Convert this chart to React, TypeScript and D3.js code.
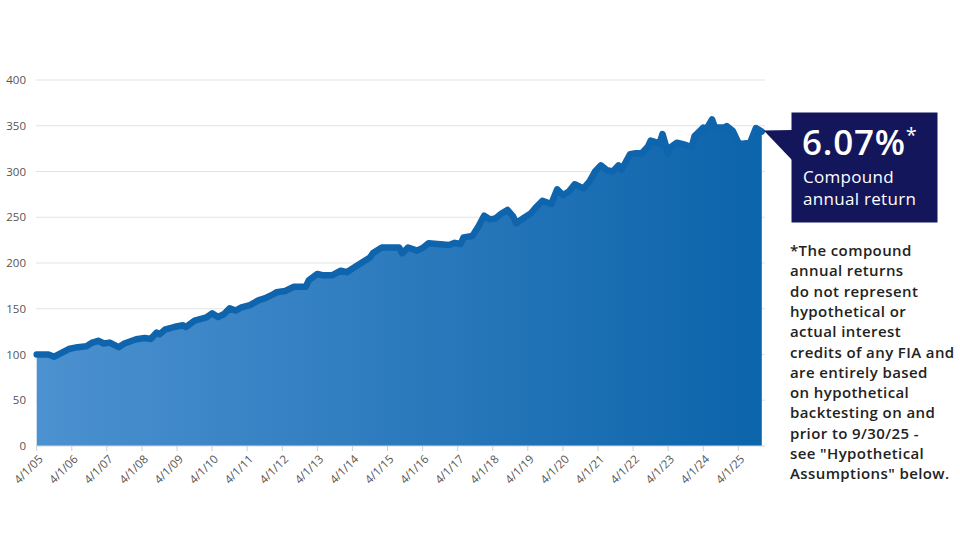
import * as d3 from "d3";

// index value, roughly monthly samples
const dates = [
  "2005-04", "2005-08", "2005-10", "2006-03", "2006-06", "2006-09", "2006-11",
  "2007-01", "2007-03", "2007-05", "2007-08", "2007-10", "2008-02", "2008-05",
  "2008-07", "2008-09", "2008-10", "2008-12", "2009-03", "2009-06", "2009-07",
  "2009-10", "2010-02", "2010-04", "2010-06", "2010-08", "2010-10", "2010-12",
  "2011-02", "2011-05", "2011-08", "2011-10", "2012-01", "2012-02", "2012-05",
  "2012-08", "2012-12", "2013-01", "2013-04", "2013-06", "2013-09", "2013-12",
  "2014-02", "2014-05", "2014-07", "2014-10", "2014-11", "2015-02", "2015-05",
  "2015-08", "2015-09", "2015-11", "2016-02", "2016-04", "2016-06", "2016-10",
  "2017-01", "2017-03", "2017-05", "2017-06", "2017-09", "2017-11", "2018-01",
  "2018-03", "2018-05", "2018-07", "2018-09", "2018-11", "2018-12", "2019-03",
  "2019-05", "2019-07", "2019-09", "2019-12", "2020-02", "2020-04", "2020-06",
  "2020-08", "2020-11", "2021-01", "2021-03", "2021-05", "2021-07", "2021-09",
  "2021-11", "2021-12", "2022-03", "2022-05", "2022-07", "2022-09", "2022-10",
  "2023-01", "2023-02", "2023-04", "2023-05", "2023-07", "2023-10", "2023-12",
  "2024-01", "2024-04", "2024-05", "2024-07", "2024-08", "2024-11", "2024-12",
  "2025-02", "2025-04", "2025-05", "2025-08", "2025-10", "2025-12",
];
const values = [
  100, 100, 97.6, 106, 108, 109, 113,
  115, 112, 113, 108, 112, 116.6, 118,
  117, 124, 122, 127.5, 130, 132, 130,
  137, 140.6, 145, 141, 144, 150.5, 148,
  151.5, 154, 159.5, 161.4, 166, 168, 169.4,
  174, 174, 181, 188, 186.5, 186.5, 191.6,
  190, 196, 200, 206, 211, 217, 217,
  217, 210.5, 217, 213.5, 216.4, 221.5, 220.4,
  219.7, 222, 220.8, 228, 229.5, 239.7, 251.7,
  247.7, 248.8, 254, 258, 250.6, 243.4, 250,
  254, 261.5, 268, 264.5, 280.5, 274.3, 278,
  286, 281.5, 289, 300, 306.7, 301.6, 300,
  306.7, 301.6, 319, 320, 320, 327, 333.7,
  330.7, 341, 320, 327, 331.5, 329, 326.5,
  338.8, 348, 346, 357, 348, 348, 349.7,
  344.6, 331.5, 330, 331.5, 347.5, 343.7,
];
const yTicks = [0, 50, 100, 150, 200, 250, 300, 350, 400];
const tickYears = d3.range(2005, 2026);

const headline = "6.07%";
const calloutLines = ["Compound", "annual return"];
const footnote = [
  "*The compound",
  "annual returns",
  "do not represent",
  "hypothetical or",
  "actual interest",
  "credits of any FIA and",
  "are entirely based",
  "on hypothetical",
  "backtesting on and",
  "prior to 9/30/25 -",
  "see \"Hypothetical",
  "Assumptions\" below.",
];

const W = 960;
const H = 538;
const font = "'Open Sans', Lato, sans-serif";

export default function App() {
  const parse = d3.timeParse("%Y-%m");
  const data = dates.map((d, i) => ({ date: parse(d) as Date, value: values[i] }));

  const x = d3
    .scaleTime()
    .domain([new Date(2005, 3, 1), new Date(2025, 11, 24)])
    .range([36.7, 764]);
  const y = d3.scaleLinear().domain([0, 400]).range([446, 80]);

  const area = d3
    .area<{ date: Date; value: number }>()
    .x(d => x(d.date))
    .y0(y(0))
    .y1(d => y(d.value));
  const line = d3
    .line<{ date: Date; value: number }>()
    .x(d => x(d.date))
    .y(d => y(d.value));

  const tickDates = tickYears.map(yr => new Date(yr, 3, 1));
  const fmt = d3.timeFormat("%-m/%-d/%y");
  const last = data[data.length - 1];

  return (
    <svg
      width={W}
      height={H}
      style={{ position: "absolute", left: 0, top: 0, background: "#fff" }}
      fontFamily={font}
    >
      <defs>
        <linearGradient id="fillGrad" x1="0" x2="1" y1="0" y2="0">
          <stop offset="0%" stopColor="#4c91d0" />
          <stop offset="100%" stopColor="#0c64aa" />
        </linearGradient>
      </defs>

      {/* gridlines + y labels */}
      {yTicks.map(t => (
        <g key={t}>
          {t > 0 && (
            <line x1={36} x2={765} y1={y(t)} y2={y(t)} stroke="#e3e3e3" strokeWidth={1.2} />
          )}
          <text x={26} y={y(t)} dy="0.35em" textAnchor="end" fontSize={11.5} fill="#555">
            {t}
          </text>
        </g>
      ))}

      <path d={area(data) ?? ""} fill="url(#fillGrad)" />
      <path
        d={line(data) ?? ""}
        fill="none"
        stroke="#0e64ad"
        strokeWidth={6.5}
        strokeLinejoin="round"
        strokeLinecap="round"
      />

      {/* x axis */}
      <line x1={36} x2={765} y1={y(0)} y2={y(0)} stroke="#cfd8e2" strokeWidth={1.2} />
      {tickDates.map((d, i) => (
        <g key={i} transform={`translate(${x(d)},${y(0)})`}>
          <line y1={0} y2={5} stroke="#d0d0d0" />
          <text
            transform="translate(4,11) rotate(-45)"
            textAnchor="end"
            fontSize={11.5}
            fill="#555"
            dy="0.35em"
          >
            {fmt(d)}
          </text>
        </g>
      ))}

      {/* callout */}
      <path
        d={`M${x(last.date) + 2},${y(last.value) - 1} L792,130 L792,160 Z`}
        fill="#14165b"
      />
      <rect x={791.5} y={112.5} width={146} height={110} fill="#14165b" />
      <text x={802} y={155} fontSize={35} fontWeight={600} letterSpacing={0.8} fill="#fff">
        {headline}
        <tspan dx={0} dy={-13} fontSize={20} fontWeight={400}>*</tspan>
      </text>
      {calloutLines.map((l, i) => (
        <text key={l} x={803} y={183 + i * 21.5} fontSize={17} letterSpacing={0.3} fill="#fff">
          {l}
        </text>
      ))}

      {/* footnote */}
      {footnote.map((l, i) => (
        <text
          key={i}
          x={790}
          y={256 + i * 20.3}
          fontSize={15}
          fontWeight={600}
          letterSpacing={0.4}
          fill="#222"
        >
          {l}
        </text>
      ))}
    </svg>
  );
}
